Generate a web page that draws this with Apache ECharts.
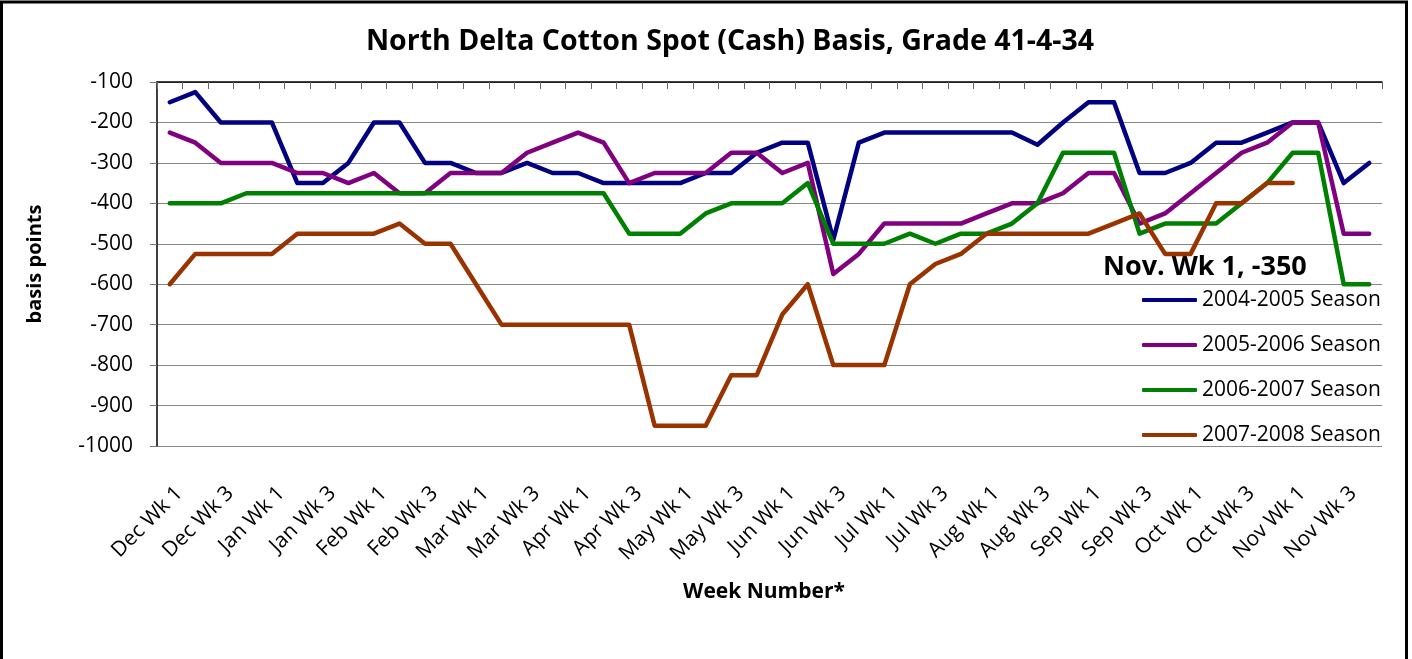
<!DOCTYPE html>
<html>
<head>
<meta charset="utf-8">
<script src="https://cdn.jsdelivr.net/npm/echarts@6/dist/echarts.min.js"></script>
<style>
html,body{margin:0;padding:0;background:#fff;}
#c{width:1412px;height:659px;}
</style>
</head>
<body>
<div id="c"></div>
<script>
const categories = [
  'Dec Wk 1','Dec Wk 2','Dec Wk 3','Dec Wk 4',
  'Jan Wk 1','Jan Wk 2','Jan Wk 3','Jan Wk 4',
  'Feb Wk 1','Feb Wk 2','Feb Wk 3','Feb Wk 4',
  'Mar Wk 1','Mar Wk 2','Mar Wk 3','Mar Wk 4',
  'Apr Wk 1','Apr Wk 2','Apr Wk 3','Apr Wk 4',
  'May Wk 1','May Wk 2','May Wk 3','May Wk 4',
  'Jun Wk 1','Jun Wk 2','Jun Wk 3','Jun Wk 4',
  'Jul Wk 1','Jul Wk 2','Jul Wk 3','Jul Wk 4',
  'Aug Wk 1','Aug Wk 2','Aug Wk 3','Aug Wk 4',
  'Sep Wk 1','Sep Wk 2','Sep Wk 3','Sep Wk 4',
  'Oct Wk 1','Oct Wk 2','Oct Wk 3','Oct Wk 4',
  'Nov Wk 1','Nov Wk 2','Nov Wk 3','Nov Wk 4'
];
const seriesNames = ['2004-2005 Season','2005-2006 Season','2006-2007 Season','2007-2008 Season'];
const season0405 = [-150,-125,-200,-200,-200,-350,-350,-300,-200,-200,-300,-300,
  -325,-325,-300,-325,-325,-350,-350,-350,-350,-325,-325,-275,
  -250,-250,-490,-250,-225,-225,-225,-225,-225,-225,-255,-200,
  -150,-150,-325,-325,-300,-250,-250,-225,-200,-200,-350,-300];
const season0506 = [-225,-250,-300,-300,-300,-325,-325,-350,-325,-375,-375,-325,
  -325,-325,-275,-250,-225,-250,-350,-325,-325,-325,-275,-275,
  -325,-300,-575,-525,-450,-450,-450,-450,-425,-400,-400,-375,
  -325,-325,-450,-425,-375,-325,-275,-250,-200,-200,-475,-475];
const season0607 = [-400,-400,-400,-375,-375,-375,-375,-375,-375,-375,-375,-375,
  -375,-375,-375,-375,-375,-375,-475,-475,-475,-425,-400,-400,
  -400,-350,-500,-500,-500,-475,-500,-475,-475,-450,-400,-275,
  -275,-275,-475,-450,-450,-450,-400,-350,-275,-275,-600,-600];
const season0708 = [-600,-525,-525,-525,-525,-475,-475,-475,-475,-450,-500,-500,
  -600,-700,-700,-700,-700,-700,-700,-950,-950,-950,-825,-825,
  -675,-600,-800,-800,-800,-600,-550,-525,-475,-475,-475,-475,
  -475,-450,-425,-525,-525,-400,-400,-350,-350,null,null,null];
const yTicks = {min:-1000, max:-100, interval:100};
const titleText = 'North Delta Cotton Spot (Cash) Basis, Grade 41-4-34';
const annotationText = 'Nov. Wk 1, -350';
const yName = 'basis points';
const xName = 'Week Number*';

const colors = ['#000080','#800080','#008000','#993300'];
const seriesData = [season0405, season0506, season0607, season0708];
const FONT = '"Open Sans", "Noto Sans", sans-serif';

const chart = echarts.init(document.getElementById('c'), null, {renderer:'canvas'});
const G = {left:157, right:30, top:82, bottom:213};
chart.setOption({
  backgroundColor:'#fff',
  animation:false,
  title:{
    text:titleText, left:725, top:22, textAlign:'center',
    textStyle:{fontFamily:FONT, fontWeight:'bold', fontSize:28.5, color:'#000'}
  },
  grid:[
    {left:G.left, right:G.right, top:G.top, bottom:G.bottom},
    {left:G.left+9.5, right:G.right-9.5, top:G.top, bottom:G.bottom}
  ],
  legend:{
    orient:'vertical', left:1137, top:283, itemWidth:55, itemHeight:4, itemGap:21,
    icon:'roundRect',
    textStyle:{fontFamily:FONT, fontSize:21, color:'#000', lineHeight:24},
    data:seriesNames
  },
  xAxis:[
    {type:'category', gridIndex:0, position:'top', data:categories, boundaryGap:true,
     axisLine:{show:true, lineStyle:{color:'#000', width:1.5}},
     axisTick:{show:true, inside:true, length:7, interval:0, lineStyle:{color:'#666'}},
     axisLabel:{show:false}, splitLine:{show:false}},
    {type:'category', gridIndex:1, position:'bottom', data:categories, boundaryGap:true,
     axisLine:{show:false}, axisTick:{show:false}, splitLine:{show:false},
     axisLabel:{interval:1, rotate:45, margin:44, fontFamily:FONT, fontSize:21, color:'#000'}}
  ],
  yAxis:[
    {type:'value', gridIndex:0, min:yTicks.min, max:yTicks.max, interval:yTicks.interval,
     name:yName, nameLocation:'middle', nameGap:112,
     nameTextStyle:{fontFamily:FONT, fontWeight:'bold', fontSize:20, color:'#000'},
     axisLine:{show:true, lineStyle:{color:'#000', width:1.5}},
     axisTick:{show:true, inside:false, length:7, lineStyle:{color:'#777'}},
     axisLabel:{margin:24, fontFamily:FONT, fontSize:21, color:'#000', formatter:(v)=>String(v)},
     splitLine:{show:true, lineStyle:{color:'#888', width:1.2}}},
    {type:'value', gridIndex:1, min:yTicks.min, max:yTicks.max, interval:yTicks.interval, show:false}
  ],
  graphic:[
    {type:'rect', shape:{x:1.5, y:2, width:1405, height:720}, style:{fill:'none', stroke:'#000', lineWidth:3}, silent:true},
    {type:'text', x:1103, y:267, style:{text:annotationText, fontFamily:FONT, fontWeight:'bold', fontSize:27, fill:'#000', verticalAlign:'middle'}},
    {type:'text', x:764, y:592, style:{text:xName, fontFamily:FONT, fontWeight:'bold', fontSize:21, fill:'#000', align:'center', verticalAlign:'middle'}}
  ],
  series: seriesNames.map((n,i)=>({
    name:n, type:'line', xAxisIndex:0, yAxisIndex:0, data:seriesData[i],
    symbol:'none', showSymbol:false, connectNulls:false,
    lineStyle:{color:colors[i], width:4.5, cap:'round', join:'round'},
    itemStyle:{color:colors[i]}
  }))
});
</script>
</body>
</html>
